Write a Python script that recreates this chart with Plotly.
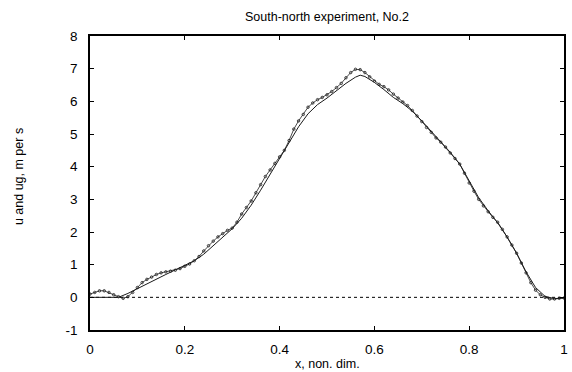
import plotly.graph_objects as go

# Geostrophic wind ug (smooth) along the non-dimensional section
x_ug = [0, 0.02, 0.04, 0.06, 0.08, 0.1, 0.12, 0.14, 0.16, 0.18, 0.2, 0.22,
        0.24, 0.26, 0.28, 0.3, 0.32, 0.34, 0.36, 0.38, 0.4, 0.42, 0.44,
        0.46, 0.48, 0.5, 0.52, 0.54, 0.56, 0.57, 0.58, 0.6, 0.62, 0.64,
        0.66, 0.68, 0.7, 0.72, 0.74, 0.76, 0.78, 0.8, 0.82, 0.84, 0.86,
        0.88, 0.9, 0.92, 0.94, 0.96, 0.98, 1.0]
ug = [0, 0, 0, 0.0, 0.12, 0.27, 0.42, 0.56, 0.7, 0.84, 0.97, 1.12,
      1.32, 1.58, 1.85, 2.1, 2.42, 2.82, 3.28, 3.76, 4.25, 4.72, 5.22,
      5.62, 5.9, 6.1, 6.33, 6.55, 6.74, 6.8, 6.76, 6.58, 6.36, 6.12,
      5.93, 5.7, 5.4, 5.08, 4.76, 4.44, 4.08, 3.55, 3.05, 2.65, 2.28,
      1.85, 1.35, 0.78, 0.3, 0.03, -0.04, -0.02]

# Measured wind u, sampled every 0.01
x_u = [i / 100 for i in range(101)]
u = [0.1, 0.15, 0.2, 0.2, 0.15, 0.08, 0.02, -0.03, 0.02, 0.15,
     0.3, 0.45, 0.55, 0.62, 0.7, 0.75, 0.78, 0.8, 0.83, 0.88,
     0.95, 1.02, 1.12, 1.25, 1.42, 1.58, 1.72, 1.85, 1.95, 2.05,
     2.12, 2.3, 2.55, 2.75, 2.95, 3.2, 3.45, 3.7, 3.9, 4.1,
     4.3, 4.5, 4.8, 5.15, 5.4, 5.6, 5.82, 5.95, 6.05, 6.12,
     6.2, 6.3, 6.42, 6.55, 6.72, 6.88, 6.98, 6.97, 6.88, 6.75,
     6.62, 6.52, 6.45, 6.35, 6.22, 6.1, 5.98, 5.87, 5.72, 5.55,
     5.38, 5.2, 5.05, 4.88, 4.75, 4.6, 4.42, 4.25, 4.08, 3.8,
     3.5, 3.25, 3.0, 2.8, 2.62, 2.45, 2.3, 2.08, 1.85, 1.6,
     1.35, 1.05, 0.75, 0.45, 0.22, 0.08, 0.0, -0.05, -0.05, -0.03,
     -0.02]

x_ticks = [0, 0.2, 0.4, 0.6, 0.8, 1]
x_tick_text = ["0", "0.2", "0.4", "0.6", "0.8", "1"]
y_ticks = [-1, 0, 1, 2, 3, 4, 5, 6, 7, 8]
y_tick_text = ["-1", "0", "1", "2", "3", "4", "5", "6", "7", "8"]

FONT = "Liberation Sans, Arial, sans-serif"

fig = go.Figure()

# zero reference line
fig.add_trace(go.Scatter(
    x=[0, 1], y=[0, 0], mode="lines",
    line=dict(color="black", width=1, dash="3px,3px"),
    hoverinfo="skip", showlegend=False,
))

fig.add_trace(go.Scatter(
    x=x_ug, y=ug, mode="lines", name="ug",
    line=dict(color="#1a1a1a", width=1),
    showlegend=False,
))

fig.add_trace(go.Scatter(
    x=x_u, y=u, mode="lines+markers", name="u",
    line=dict(color="#1a1a1a", width=0.8),
    marker=dict(symbol="circle-open", size=2.5, color="#1a1a1a",
                line=dict(width=0.8, color="#1a1a1a")),
    showlegend=False,
))

axis_common = dict(
    showgrid=False, zeroline=False, showline=True, linecolor="black",
    linewidth=1.5, mirror="ticks", ticks="inside", ticklen=4,
    tickcolor="black", tickwidth=1,
    tickfont=dict(family=FONT, size=13.5, color="black"),
)

fig.update_xaxes(range=[0, 1], tickvals=x_ticks, ticktext=x_tick_text,
                 ticklabelstandoff=6, **axis_common)
fig.update_yaxes(range=[-1, 8], tickvals=y_ticks, ticktext=y_tick_text,
                 ticklabelstandoff=8, **axis_common)

fig.update_layout(
    width=572, height=372,
    margin=dict(l=90, r=4, t=36, b=42),
    paper_bgcolor="white", plot_bgcolor="white",
    font=dict(family=FONT, color="black"),
    annotations=[
        dict(text="South-north experiment, No.2", xref="paper", yref="paper",
             x=0.5, y=1, yanchor="middle", yshift=19, showarrow=False,
             font=dict(family=FONT, size=12.5, color="black")),
        dict(text="x, non. dim.", xref="paper", yref="paper",
             x=0.5, y=0, yanchor="middle", yshift=-34, showarrow=False,
             font=dict(family=FONT, size=12.5, color="black")),
        dict(text="u and ug, m per s", xref="paper", yref="paper",
             x=0, y=0.52, xanchor="center", yanchor="middle", xshift=-71,
             textangle=-90, showarrow=False,
             font=dict(family=FONT, size=12.5, color="black")),
    ],
)

fig.write_html("out.html")
